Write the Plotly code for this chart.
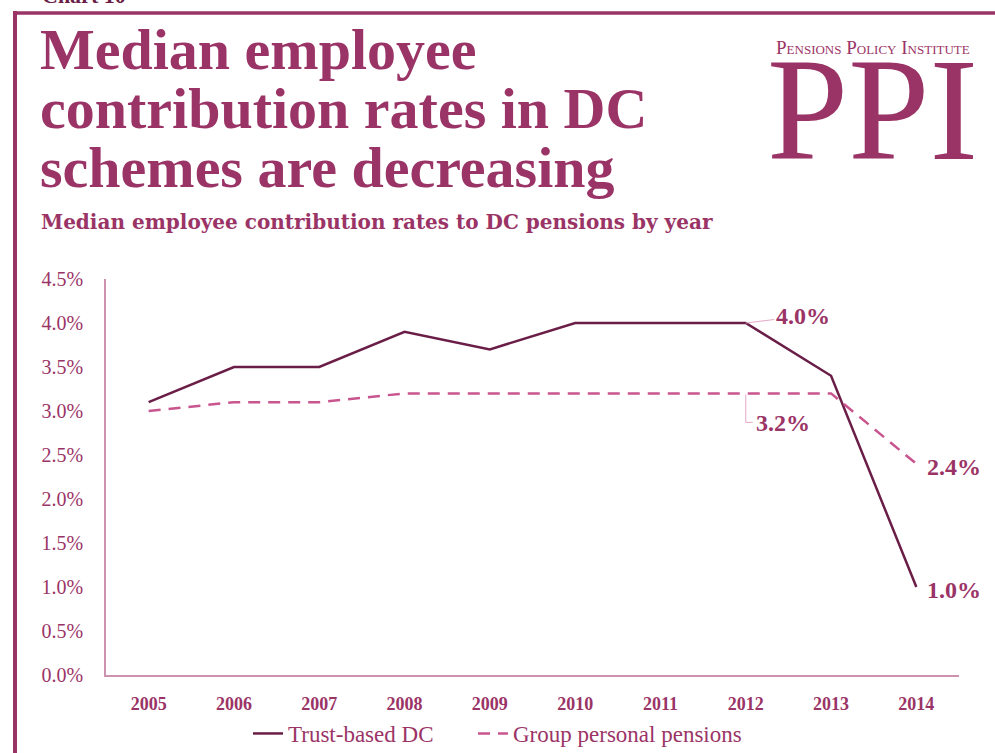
import plotly.graph_objects as go

# Median employee contribution rates (% of salary)
years = [2005, 2006, 2007, 2008, 2009, 2010, 2011, 2012, 2013, 2014]
trust_based = [3.1, 3.5, 3.5, 3.9, 3.7, 4.0, 4.0, 4.0, 3.4, 1.0]
group_personal = [3.0, 3.1, 3.1, 3.2, 3.2, 3.2, 3.2, 3.2, 3.2, 2.4]
y_ticks = [0.0, 0.5, 1.0, 1.5, 2.0, 2.5, 3.0, 3.5, 4.0, 4.5]

W, H = 995, 753
L, R, T, B = 106, 959, 279, 675  # plot area in pixels

PLUM = "#9B3466"
DARK = "#6A1E47"
PINK = "#C9558F"
AXIS = "#CC92AF"
LEADER = "#E3A9C6"
SERIF = "Liberation Serif"


def px(x):
    return (x - L) / (R - L)


def py(y):
    return (B - y) / (B - T)


fig = go.Figure()
fig.add_trace(go.Scatter(
    x=years, y=trust_based, mode="lines", name="Trust-based DC",
    line=dict(color=DARK, width=2.5), legend="legend",
))
fig.add_trace(go.Scatter(
    x=years, y=group_personal, mode="lines", name="Group personal pensions",
    line=dict(color=PINK, width=2.5, dash="12px,8px"), legend="legend2",
))

annotations = []
# Headline, one line per annotation so the leading can be set
title_lines = ["Median employee", "contribution rates in DC", "schemes are decreasing"]
for i, line in enumerate(title_lines):
    annotations.append(dict(
        text=line, x=px(38), y=py(72 + 59 * i), xref="paper", yref="paper",
        xanchor="left", yanchor="bottom", yshift=-12, showarrow=False,
        font=dict(family=SERIF, size=58, color=PLUM, weight="bold"),
    ))
annotations.append(dict(
    text="Median employee contribution rates to DC pensions by year",
    x=px(39), y=py(222), xref="paper", yref="paper", xanchor="left", yanchor="middle",
    showarrow=False, font=dict(family="DejaVu Serif", size=20, color=PLUM, weight="bold"),
))
annotations.append(dict(
    text="Chart 10",
    x=px(40), y=py(-4), xref="paper", yref="paper", xanchor="left", yanchor="middle",
    showarrow=False, font=dict(family=SERIF, size=22, color=DARK, weight="bold"),
))
# Logo
annotations.append(dict(
    text="Pensions Policy Institute",
    x=px(873), y=py(47), xref="paper", yref="paper", xanchor="center", yanchor="middle",
    showarrow=False, font=dict(family=SERIF, size=19, color=PLUM, variant="small-caps"),
))
annotations.append(dict(
    text="PPI",
    x=px(872), y=py(110), xref="paper", yref="paper", xanchor="center", yanchor="middle",
    showarrow=False, font=dict(family=SERIF, size=146, color=PLUM),
))

# Value labels
lab_font = dict(family=SERIF, size=24, color=PLUM, weight="bold")
annotations.append(dict(
    text=f"{trust_based[7]:.1f}%", x=years[7], y=trust_based[7], xref="x", yref="y",
    ax=57, ay=-7, showarrow=True, arrowhead=0, arrowwidth=1, arrowcolor=LEADER,
    font=lab_font,
))
annotations.append(dict(
    text=f"{group_personal[7]:.1f}%", x=years[7], y=group_personal[7], xref="x", yref="y",
    xshift=37, yshift=-30, showarrow=False, font=lab_font,
))
annotations.append(dict(
    text=f"{group_personal[9]:.1f}%", x=years[9], y=group_personal[9], xref="x", yref="y",
    xshift=38, yshift=-3, showarrow=False, font=lab_font,
))
annotations.append(dict(
    text=f"{trust_based[9]:.1f}%", x=years[9], y=trust_based[9], xref="x", yref="y",
    xshift=38, yshift=-3, showarrow=False, font=lab_font,
))

shapes = [
    # page frame
    dict(type="line", xref="paper", yref="paper", x0=px(15), x1=px(15), y0=py(11), y1=py(760),
         line=dict(color=PLUM, width=4)),
    dict(type="line", xref="paper", yref="paper", x0=px(13), x1=px(995), y0=py(13), y1=py(13),
         line=dict(color=PLUM, width=3.5)),
    # elbow leader for the 3.2% label
    dict(type="path", xref="x", yref="y", xsizemode="pixel", ysizemode="pixel",
         xanchor=years[7], yanchor=group_personal[7],
         path="M0,-1 L0,-29 L7,-29", line=dict(color=LEADER, width=1)),
]

legend_style = dict(orientation="h", xanchor="left", y=py(712), yanchor="top",
                    font=dict(family=SERIF, size=23, color=PLUM), itemwidth=30,
                    bgcolor="rgba(0,0,0,0)")

fig.update_layout(
    width=W, height=H,
    margin=dict(l=L, r=W - R, t=T, b=H - B, autoexpand=False),
    paper_bgcolor="white", plot_bgcolor="white",
    showlegend=True,
    legend=dict(x=px(248), **legend_style),
    legend2=dict(x=px(473), **legend_style),
    annotations=annotations, shapes=shapes,
    xaxis=dict(range=[2004.5, 2014.5], tickvals=years, ticktext=[str(y) for y in years],
               showgrid=False, showline=True, zeroline=False,
               linecolor=AXIS, linewidth=1.5, ticks="", ticklabelstandoff=12,
               tickfont=dict(family=SERIF, size=18, color=PLUM, weight="bold")),
    yaxis=dict(range=[0, 4.5], tickvals=y_ticks, ticktext=[f"{v:.1f}%" for v in y_ticks],
               showgrid=False, showline=True, linecolor=AXIS, linewidth=1.5, ticks="",
               zeroline=False, ticklabelstandoff=17,
               tickfont=dict(family=SERIF, size=20, color=PLUM)),
)

fig.write_html("out.html")
